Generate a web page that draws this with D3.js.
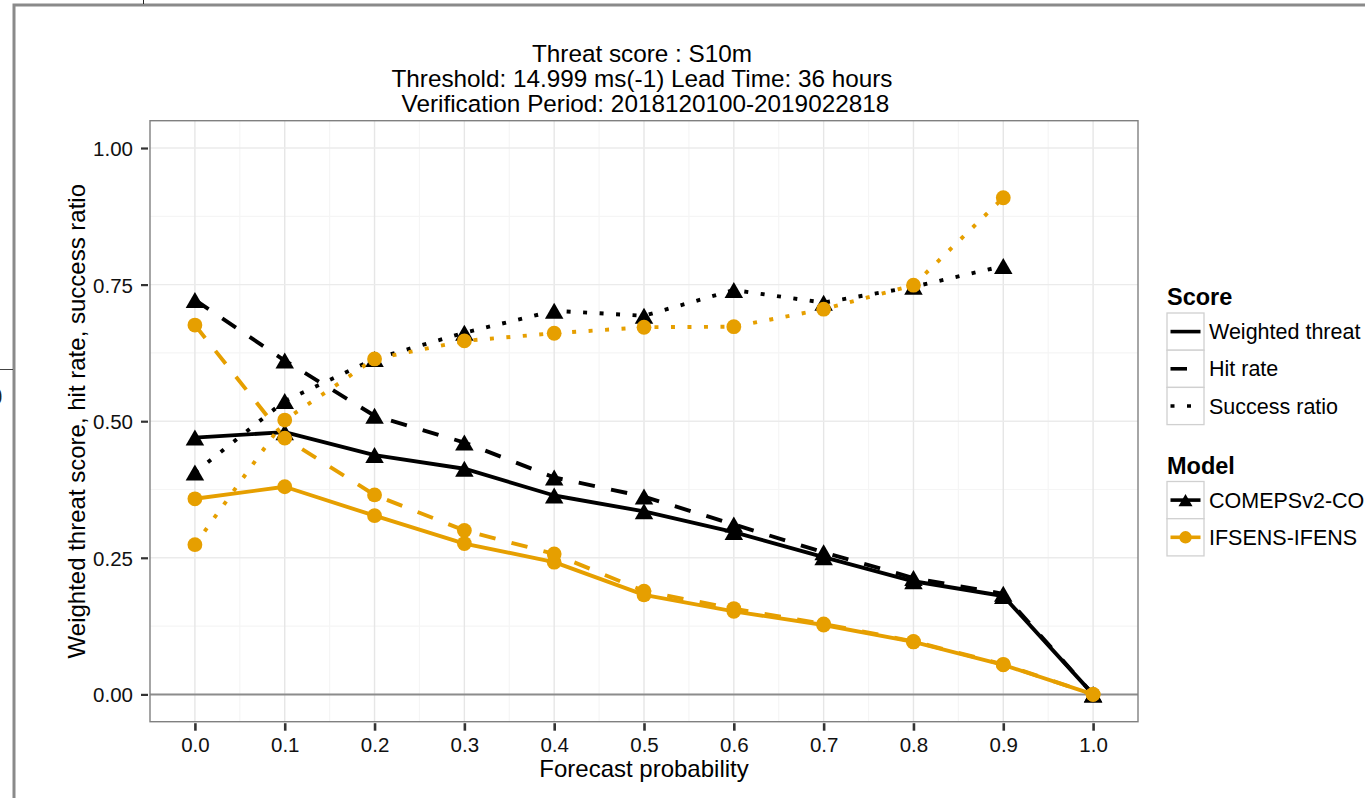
<!DOCTYPE html>
<html>
<head>
<meta charset="utf-8">
<script src="https://cdn.jsdelivr.net/npm/d3@7/dist/d3.min.js"></script>
<style>
  html, body { margin: 0; padding: 0; background: #fff; overflow: hidden; }
  svg { display: block; font-family: "Liberation Sans", Arial, Helvetica, sans-serif; }
</style>
</head>
<body>
<svg id="chart" width="1365" height="798"></svg>
<script>
// ---------- data ----------
const probs = [0.0, 0.1, 0.2, 0.3, 0.4, 0.5, 0.6, 0.7, 0.8, 0.9, 1.0];
const xTickLabels = ["0.0","0.1","0.2","0.3","0.4","0.5","0.6","0.7","0.8","0.9","1.0"];
const yTicks = [0.00, 0.25, 0.50, 0.75, 1.00];
const yTickLabels = ["0.00","0.25","0.50","0.75","1.00"];

const comepsWeighted = [0.470, 0.480, 0.438, 0.413, 0.364, 0.335, 0.297, 0.251, 0.207, 0.180, 0.000];
const comepsHitRate  = [0.722, 0.611, 0.510, 0.461, 0.397, 0.362, 0.311, 0.260, 0.213, 0.184, 0.000];
const comepsSuccess  = [0.406, 0.537, 0.614, 0.662, 0.702, 0.693, 0.740, 0.717, 0.746, 0.784, null];
const ifsWeighted    = [0.358, 0.380, 0.327, 0.276, 0.242, 0.182, 0.152, 0.127, 0.096, 0.054, 0.000];
const ifsHitRate     = [0.676, 0.469, 0.365, 0.300, 0.257, 0.189, 0.157, 0.129, 0.097, 0.055, 0.000];
const ifsSuccess     = [0.274, 0.502, 0.614, 0.647, 0.661, 0.672, 0.673, 0.705, 0.749, 0.909, null];

const scoreNames = ["Weighted threat score", "Hit rate", "Success ratio"];
const modelNames = ["COMEPSv2-COMEPS", "IFSENS-IFENS"];
const titleLines = ["Threat score : S10m",
                    "Threshold: 14.999 ms(-1) Lead Time: 36 hours",
                    " Verification Period: 2018120100-2019022818"];
const xTitle = "Forecast probability";
const yTitle = "Weighted threat score, hit rate, success ratio";

// ---------- styles ----------
const modelColors = ["#000000", "#E69F00"];
const modelShapes = ["triangle", "circle"];
const dashes = [null, "16.5 16.5", "4 12.5"];
const LW = 3.9;

const svg = d3.select("#chart");
svg.append("rect").attr("width", 1365).attr("height", 798).attr("fill", "#fff");

// outer frame artifacts (screenshot border)
svg.append("rect").attr("x", 14).attr("y", 5).attr("width", 1400).attr("height", 850)
  .attr("fill", "none").attr("stroke", "#8a8a8a").attr("stroke-width", 3);
svg.append("line").attr("x1", 143.5).attr("x2", 143.5).attr("y1", 0).attr("y2", 4)
  .attr("stroke", "#222").attr("stroke-width", 1);
svg.append("line").attr("x1", 0).attr("x2", 13).attr("y1", 369.5).attr("y2", 369.5)
  .attr("stroke", "#444").attr("stroke-width", 1);
svg.append("text").attr("x", -11).attr("y", 405).attr("font-size", 24).attr("fill", "#222").text("0");

// ---------- scales ----------
const P = {left: 150, right: 1138, top: 120.7, bottom: 721.7};
const x = d3.scaleLinear().domain([-0.05, 1.05]).range([P.left, P.right]);
const y = d3.scaleLinear().domain([-0.05, 1.05]).range([P.bottom, P.top]);

const g = svg.append("g");

// panel background
g.append("rect").attr("x", P.left).attr("y", P.top)
  .attr("width", P.right - P.left).attr("height", P.bottom - P.top).attr("fill", "#fff");

// minor grid
const xMinor = d3.range(0, 10).map(i => 0.05 + i * 0.1);
const yMinor = [0.125, 0.375, 0.625, 0.875];
g.selectAll(".xmin").data(xMinor).enter().append("line")
  .attr("x1", d => x(d)).attr("x2", d => x(d)).attr("y1", P.top).attr("y2", P.bottom)
  .attr("stroke", "#f5f5f5").attr("stroke-width", 1.2);
g.selectAll(".ymin").data(yMinor).enter().append("line")
  .attr("y1", d => y(d)).attr("y2", d => y(d)).attr("x1", P.left).attr("x2", P.right)
  .attr("stroke", "#f5f5f5").attr("stroke-width", 1.2);
// major grid
g.selectAll(".xmaj").data(probs).enter().append("line")
  .attr("x1", d => x(d)).attr("x2", d => x(d)).attr("y1", P.top).attr("y2", P.bottom)
  .attr("stroke", "#e6e6e6").attr("stroke-width", 1.4);
g.selectAll(".ymaj").data(yTicks).enter().append("line")
  .attr("y1", d => y(d)).attr("y2", d => y(d)).attr("x1", P.left).attr("x2", P.right)
  .attr("stroke", "#ebebeb").attr("stroke-width", 1.4);

// zero line
g.append("line").attr("x1", P.left).attr("x2", P.right).attr("y1", y(0)).attr("y2", y(0))
  .attr("stroke", "#8c8c8c").attr("stroke-width", 2);

// ---------- series ----------
const series = [
  {m: 0, s: 0, v: comepsWeighted}, {m: 0, s: 1, v: comepsHitRate}, {m: 0, s: 2, v: comepsSuccess},
  {m: 1, s: 0, v: ifsWeighted},    {m: 1, s: 1, v: ifsHitRate},    {m: 1, s: 2, v: ifsSuccess}
];
const line = d3.line().defined(d => d[1] !== null).x(d => x(d[0])).y(d => y(d[1]));

series.forEach(sr => {
  g.append("path").datum(probs.map((p, i) => [p, sr.v[i]]))
    .attr("d", line).attr("fill", "none")
    .attr("stroke", modelColors[sr.m]).attr("stroke-width", LW)
    .attr("stroke-dasharray", dashes[sr.s]).attr("stroke-linejoin", "round")
    .attr("stroke-linecap", "butt");
});

function triPath(cx, cy, w) {
  const h = w * 0.866;
  return `M${cx - w/2},${cy + h/2}L${cx + w/2},${cy + h/2}L${cx},${cy - h/2}Z`;
}
function drawPoint(sel, shape, cx, cy, color, big) {
  if (shape === "triangle") {
    sel.append("path").attr("d", triPath(cx, cy, big ? 18.5 : 14)).attr("fill", color);
  } else {
    sel.append("circle").attr("cx", cx).attr("cy", cy).attr("r", big ? 7.4 : 6.2).attr("fill", color);
  }
}
[0, 1].forEach(m => {
  series.filter(sr => sr.m === m).forEach(sr => {
    probs.forEach((p, i) => {
      if (sr.v[i] === null) return;
      drawPoint(g, modelShapes[m], x(p), y(sr.v[i]), modelColors[m], true);
    });
  });
});

// panel border
g.append("rect").attr("x", P.left).attr("y", P.top)
  .attr("width", P.right - P.left).attr("height", P.bottom - P.top)
  .attr("fill", "none").attr("stroke", "#808080").attr("stroke-width", 1.4);

// ---------- axes ----------
const xAxis = d3.axisBottom(x).tickValues(probs).tickFormat((d, i) => xTickLabels[i])
  .tickSize(8).tickPadding(0);
const xg = svg.append("g").attr("transform", `translate(0,${P.bottom})`).call(xAxis);
xg.select(".domain").remove();
xg.selectAll(".tick line").attr("stroke", "#333").attr("stroke-width", 2.6).attr("y1", 1.5).attr("y2", 9);
xg.selectAll(".tick text").attr("font-size", 20.5).attr("fill", "#111")
  .attr("font-family", "Liberation Sans, Arial, sans-serif").attr("dy", null).attr("y", 30.5);

const yAxis = d3.axisLeft(y).tickValues(yTicks).tickFormat((d, i) => yTickLabels[i])
  .tickSize(7).tickPadding(0);
const yg = svg.append("g").attr("transform", `translate(${P.left},0)`).call(yAxis);
yg.select(".domain").remove();
yg.selectAll(".tick line").attr("stroke", "#333").attr("stroke-width", 2.2).attr("x2", -9).attr("x1", -2);
yg.selectAll(".tick text").attr("font-size", 20.5).attr("fill", "#111")
  .attr("font-family", "Liberation Sans, Arial, sans-serif")
  .attr("x", -17).attr("dy", null).attr("y", 7.5);

// axis titles
svg.append("text").attr("x", (P.left + P.right) / 2).attr("y", 777)
  .attr("text-anchor", "middle").attr("font-size", 24).attr("fill", "#000").text(xTitle);
svg.append("text").attr("transform", `translate(85,${(P.top + P.bottom) / 2}) rotate(-90)`)
  .attr("text-anchor", "middle").attr("font-size", 24).attr("fill", "#000").text(yTitle);

// title
titleLines.forEach((t, i) => {
  svg.append("text").attr("x", (P.left + P.right) / 2 - 2).attr("y", 61.5 + i * 25)
    .attr("text-anchor", "middle").attr("font-size", 24.3).attr("fill", "#000")
    .style("white-space", "pre").attr("xml:space", "preserve").text(t);
});

// ---------- legends ----------
const L = {x: 1167, w: 37, h: 37.2};
function legendTitle(txt, yb) {
  svg.append("text").attr("x", L.x).attr("y", yb).attr("font-size", 23.5)
    .attr("font-weight", "bold").attr("fill", "#000").text(txt);
}
function keyBox(y0) {
  svg.append("rect").attr("x", L.x).attr("y", y0).attr("width", L.w).attr("height", L.h)
    .attr("fill", "#fff").attr("stroke", "#d0d0d0").attr("stroke-width", 1.3);
}
function keyLabel(txt, y0) {
  svg.append("text").attr("x", 1209).attr("y", y0 + L.h / 2 + 7.5)
    .attr("font-size", 21.5).attr("fill", "#000").text(txt);
}
legendTitle("Score", 305);
scoreNames.forEach((nm, i) => {
  const y0 = 313 + i * L.h;
  keyBox(y0);
  svg.append("line").attr("x1", L.x + 3.5).attr("x2", L.x + L.w - 3.5)
    .attr("y1", y0 + L.h / 2).attr("y2", y0 + L.h / 2)
    .attr("stroke", "#000").attr("stroke-width", 3.6).attr("stroke-dasharray", dashes[i]);
  keyLabel(nm, y0);
});
legendTitle("Model", 473.5);
modelNames.forEach((nm, i) => {
  const y0 = 481.5 + i * L.h;
  keyBox(y0);
  const cy = y0 + L.h / 2;
  svg.append("line").attr("x1", L.x + 3.5).attr("x2", L.x + L.w - 3.5)
    .attr("y1", cy).attr("y2", cy).attr("stroke", modelColors[i]).attr("stroke-width", 3.6);
  drawPoint(svg, modelShapes[i], L.x + L.w / 2, cy, modelColors[i], false);
  keyLabel(nm, y0);
});
</script>
</body>
</html>
